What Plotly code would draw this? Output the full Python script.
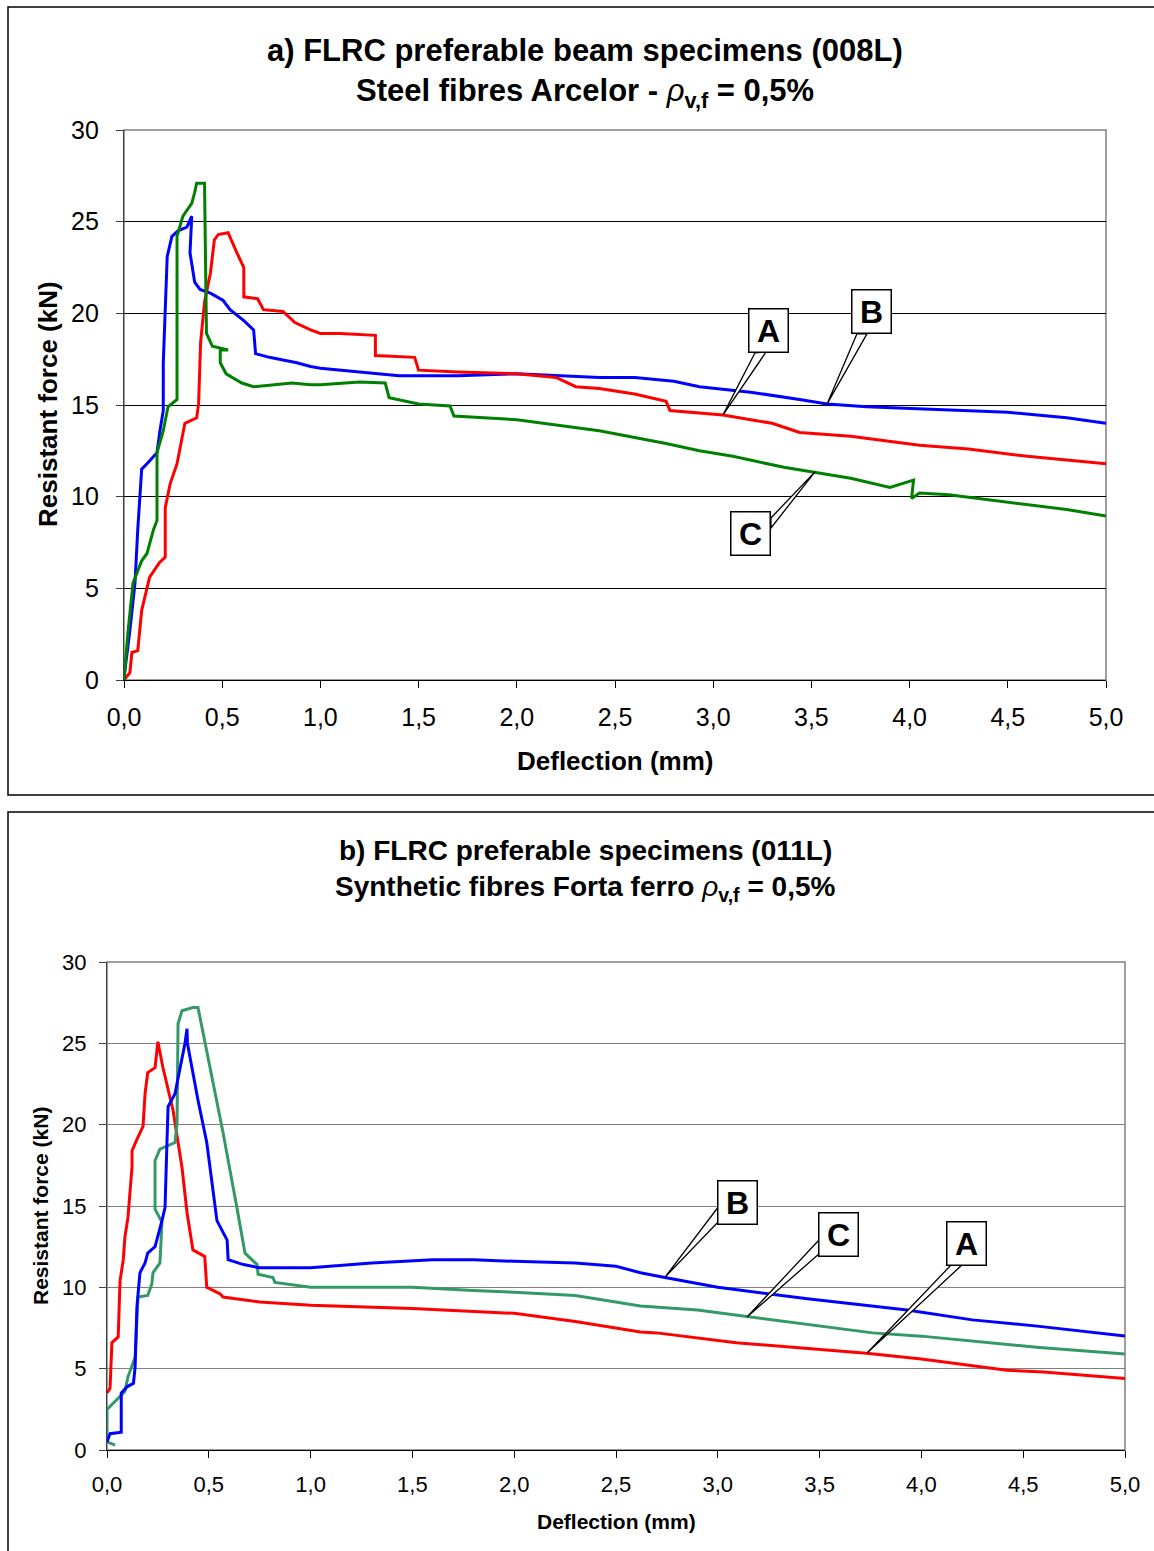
import plotly.graph_objects as go

# ---------------- data: panel a (steel fibres, 008L) ----------------
a_B_x = [0.0, 0.005, 0.03, 0.056, 0.07, 0.09, 0.117, 0.168, 0.183, 0.2, 0.2, 0.21, 0.22, 0.244, 0.275, 0.32, 0.345,
         0.336, 0.36, 0.387, 0.44, 0.505, 0.54, 0.61, 0.66, 0.67, 0.74, 0.88, 0.95, 1.0, 1.2, 1.4, 1.5, 1.7, 2.0, 2.2,
         2.42, 2.6, 2.8, 2.93, 3.19, 3.44, 3.58, 3.78, 4.05, 4.3, 4.5, 4.8, 5.0]
a_B_y = [0.0, 0.55, 2.7, 5.3, 8.2, 11.5, 11.8, 12.4, 13.6, 14.7, 17.3, 20.6, 23.1, 24.2, 24.5, 24.7, 25.3,
         23.3, 21.7, 21.3, 21.1, 20.7, 20.2, 19.6, 19.1, 17.8, 17.6, 17.3, 17.1, 17.0, 16.8, 16.6, 16.6, 16.6, 16.7, 16.6,
         16.5, 16.5, 16.3, 16.0, 15.7, 15.3, 15.06, 14.9, 14.8, 14.7, 14.6, 14.3, 14.0]

a_A_x = [0.0, 0.03, 0.04, 0.07, 0.09, 0.13, 0.18, 0.21, 0.21, 0.235, 0.27, 0.31, 0.37, 0.38, 0.39, 0.41, 0.44, 0.46,
         0.48, 0.53, 0.575, 0.61, 0.61, 0.68, 0.71, 0.81, 0.87, 0.95, 1.0, 1.1, 1.28, 1.28, 1.48, 1.5, 1.7, 2.0, 2.2,
         2.3, 2.42, 2.6, 2.76, 2.78, 3.05, 3.3, 3.44, 3.7, 4.05, 4.3, 4.6, 4.8, 5.0]
a_A_y = [0.0, 0.4, 1.5, 1.6, 3.8, 5.6, 6.4, 6.7, 9.4, 10.7, 11.8, 14.0, 14.3, 15.1, 18.4, 20.6, 22.2, 24.0,
         24.3, 24.4, 23.3, 22.5, 20.9, 20.8, 20.2, 20.1, 19.5, 19.1, 18.9, 18.9, 18.8, 17.7, 17.6, 16.9, 16.8, 16.7, 16.5,
         16.0, 15.9, 15.6, 15.2, 14.7, 14.45, 14.0, 13.5, 13.3, 12.8, 12.6, 12.2, 12.0, 11.8]

a_C_x = [0.0, 0.02, 0.046, 0.09, 0.117, 0.15, 0.168, 0.168, 0.2, 0.224, 0.27, 0.27, 0.3, 0.345, 0.36, 0.37, 0.41,
         0.42, 0.45, 0.53, 0.49, 0.49, 0.52, 0.6, 0.66, 0.78, 0.855, 0.95, 1.0, 1.2, 1.33, 1.35, 1.5, 1.66, 1.68, 2.0,
         2.2, 2.42, 2.76, 2.93, 3.1, 3.36, 3.53, 3.7, 3.9, 4.02, 4.01, 4.05, 4.2, 4.5, 4.8, 5.0]
a_C_y = [0.0, 2.6, 5.3, 6.5, 6.9, 8.2, 8.7, 12.4, 13.6, 14.9, 15.3, 24.2, 25.3, 26.0, 26.6, 27.1, 27.1,
         18.9, 18.2, 18.0, 18.0, 17.3, 16.7, 16.2, 16.0, 16.1, 16.2, 16.1, 16.1, 16.25, 16.2, 15.4, 15.05, 14.95, 14.4, 14.2,
         13.9, 13.6, 12.9, 12.5, 12.2, 11.6, 11.3, 11.0, 10.5, 10.9, 9.9, 10.2, 10.1, 9.7, 9.3, 8.95]

# ---------------- data: panel b (synthetic fibres, 011L) ----------------
b_A_x = [0.0, 0.015, 0.024, 0.055, 0.064, 0.08, 0.088, 0.103, 0.123, 0.123, 0.147, 0.177, 0.187, 0.2, 0.236, 0.25,
         0.275, 0.324, 0.368, 0.393, 0.422, 0.48, 0.49, 0.555, 0.57, 0.75, 1.0, 1.5, 2.0, 2.3, 2.62, 2.7, 3.09, 3.3,
         3.73, 4.0, 4.42, 4.6, 5.0]
b_A_y = [3.5, 3.8, 6.6, 6.95, 10.4, 11.7, 13.1, 14.3, 17.4, 18.4, 19.1, 19.9, 21.9, 23.2, 23.5, 25.1,
         23.5, 20.9, 17.4, 14.6, 12.3, 11.9, 10.0, 9.6, 9.4, 9.1, 8.9, 8.7, 8.4, 7.9, 7.25, 7.2, 6.6, 6.4,
         5.95, 5.6, 4.9, 4.8, 4.4]

b_B_x = [0.0, 0.015, 0.07, 0.07, 0.1, 0.13, 0.138, 0.147, 0.162, 0.187, 0.2, 0.236, 0.27, 0.285, 0.295, 0.3, 0.334,
         0.36, 0.383, 0.393, 0.395, 0.447, 0.49, 0.54, 0.59, 0.595, 0.67, 0.75, 1.0, 1.3, 1.6, 1.8, 2.0, 2.3, 2.5,
         2.62, 2.74, 3.0, 3.44, 3.93, 4.25, 4.58, 5.0]
b_B_y = [0.5, 1.0, 1.1, 3.5, 3.9, 4.1, 5.1, 8.8, 10.9, 11.5, 12.1, 12.5, 14.1, 14.9, 19.1, 21.1, 21.9,
         23.5, 25.0, 25.9, 25.0, 21.5, 18.9, 14.1, 12.9, 11.7, 11.4, 11.2, 11.2, 11.5, 11.7, 11.7, 11.6, 11.5, 11.3,
         10.9, 10.6, 10.0, 9.3, 8.6, 8.0, 7.6, 7.0]

b_C_x = [0.04, 0.0, 0.0, 0.064, 0.088, 0.103, 0.138, 0.152, 0.2, 0.22, 0.226, 0.26, 0.27, 0.236, 0.236, 0.26, 0.3,
         0.334, 0.344, 0.349, 0.368, 0.422, 0.447, 0.506, 0.57, 0.638, 0.678, 0.737, 0.742, 0.815, 0.825, 1.0, 1.5,
         1.8, 2.0, 2.3, 2.62, 2.9, 3.14, 3.4, 3.76, 4.0, 4.34, 4.58, 5.0]
b_C_y = [0.3, 0.5, 2.5, 3.3, 3.6, 4.5, 5.7, 9.4, 9.5, 10.2, 10.9, 11.5, 14.0, 14.8, 17.8, 18.5, 18.7,
         18.9, 20.1, 26.2, 27.0, 27.2, 27.2, 23.5, 19.5, 14.9, 12.1, 11.4, 10.8, 10.6, 10.3, 10.0, 10.0,
         9.8, 9.7, 9.5, 8.85, 8.6, 8.2, 7.8, 7.2, 7.0, 6.6, 6.3, 5.9]

x_tickvals = [0.0, 0.5, 1.0, 1.5, 2.0, 2.5, 3.0, 3.5, 4.0, 4.5, 5.0]
x_ticktext = ["0,0", "0,5", "1,0", "1,5", "2,0", "2,5", "3,0", "3,5", "4,0", "4,5", "5,0"]
y_tickvals = [0, 5, 10, 15, 20, 25, 30]
y_ticktext = ["0", "5", "10", "15", "20", "25", "30"]

# ---------------- layout settings ----------------
W, H = 1154, 1551
FONT = "Liberation Sans, Arial, sans-serif"


def px_x(p):
    return p / W


def px_y(p):
    return 1 - p / H


# callout boxes: (label, box centre x, y, wedge base points, tip) in data units
callouts_a = [
    ("A", 3.284, 19.09, [(3.213, 17.85), (3.269, 17.89)], (3.05, 14.46)),
    ("B", 3.806, 20.10, [(3.732, 18.88), (3.783, 18.88)], (3.58, 15.06)),
    ("C", 3.192, 7.99, [(3.294, 8.84), (3.294, 8.29)], (3.518, 11.35)),
]
callouts_b = [
    ("B", 3.097, 15.21, [(3.006, 15.0), (3.011, 14.14)], (2.741, 10.63)),
    ("C", 3.595, 13.25, [(3.497, 12.91), (3.502, 12.11)], (3.143, 8.17)),
    ("A", 4.222, 12.69, [(4.150, 11.43), (4.204, 11.43)], (3.733, 5.96)),
]

fig = go.Figure()

col_a = {"A": "#FF0000", "B": "#0000FF", "C": "#008000"}
col_b = {"A": "#FF0000", "B": "#0000FF", "C": "#339966"}

for name, xs, ys in [("B", a_B_x, a_B_y), ("A", a_A_x, a_A_y), ("C", a_C_x, a_C_y)]:
    fig.add_trace(go.Scatter(x=xs, y=ys, mode="lines", name=name, xaxis="x", yaxis="y",
                             line=dict(color=col_a[name], width=3), showlegend=False))
for name, xs, ys in [("A", b_A_x, b_A_y), ("C", b_C_x, b_C_y), ("B", b_B_x, b_B_y)]:
    fig.add_trace(go.Scatter(x=xs, y=ys, mode="lines", name=name, xaxis="x2", yaxis="y2",
                             line=dict(color=col_b[name], width=3), showlegend=False))


def xaxis_cfg(domain, size, standoff, anchor):
    return dict(domain=domain, range=[0, 5], anchor=anchor, tickvals=x_tickvals, ticktext=x_ticktext,
                showgrid=False, zeroline=False, showline=True, linecolor="#000000", linewidth=1.3,
                ticks="outside", ticklen=7, tickcolor="#000000", tickwidth=1.3, automargin=False,
                tickfont=dict(family=FONT, size=size, color="#000"), ticklabelstandoff=standoff)


def yaxis_cfg(domain, size, standoff, anchor, gridcolor):
    return dict(domain=domain, range=[0, 30], anchor=anchor, tickvals=y_tickvals, ticktext=y_ticktext,
                showgrid=True, gridcolor=gridcolor, gridwidth=1, zeroline=False, automargin=False,
                showline=True, linecolor="#404040", linewidth=1.3,
                ticks="outside", ticklen=7, tickcolor="#404040", tickwidth=1.3,
                tickfont=dict(family=FONT, size=size, color="#000"), ticklabelstandoff=standoff)


xa_dom = [px_x(124), px_x(1106)]
ya_dom = [px_y(680), px_y(130)]
xb_dom = [px_x(107), px_x(1125)]
yb_dom = [px_y(1450), px_y(962)]

fig.update_layout(
    width=W, height=H, margin=dict(l=0, r=0, t=0, b=0, pad=0, autoexpand=False),
    paper_bgcolor="white", plot_bgcolor="white",
    xaxis=xaxis_cfg(xa_dom, 25, 8, "y"),
    yaxis=yaxis_cfg(ya_dom, 25, 12, "x", "#000000"),
    xaxis2=xaxis_cfg(xb_dom, 22, 7, "y2"),
    yaxis2=yaxis_cfg(yb_dom, 22, 8, "x2", "#808080"),
)

shapes = []
# outer panel frames (open on the right / bottom, as in the reference)
L, R = px_x(8), 1.0
shapes.append(dict(type="path", xref="paper", yref="paper",
                   path=f"M {R} {px_y(7)} L {L} {px_y(7)} L {L} {px_y(795)} L {R} {px_y(795)}",
                   line=dict(color="#000000", width=1.5), layer="below"))
shapes.append(dict(type="path", xref="paper", yref="paper",
                   path=f"M {R} {px_y(812)} L {L} {px_y(812)} L {L} 0",
                   line=dict(color="#000000", width=1.5), layer="below"))
# grey plot-area border (top/right)
for xr, yr in [("x", "y"), ("x2", "y2")]:
    shapes.append(dict(type="rect", xref=xr + " domain", yref=yr + " domain", x0=0, x1=1, y0=0, y1=1,
                       line=dict(color="#808080", width=1.5), layer="below"))

annotations = []


def add_callouts(callouts, xr, yr):
    for label, cx, cy, base, tip in callouts:
        (bx1, by1), (bx2, by2) = base
        tx, ty = tip
        shapes.append(dict(type="path", xref=xr, yref=yr,
                           path=f"M {bx1} {by1} L {tx} {ty} L {bx2} {by2} Z",
                           fillcolor="white", line=dict(color="black", width=1.3), layer="above"))
        annotations.append(dict(x=cx, y=cy, xref=xr, yref=yr, text=f"<b>{label}</b>", showarrow=False,
                                font=dict(family=FONT, size=32, color="black"),
                                bgcolor="white", bordercolor="black", borderwidth=1.5, borderpad=4,
                                width=30, height=34, align="center", valign="middle"))


add_callouts(callouts_a, "x", "y")
add_callouts(callouts_b, "x2", "y2")

# titles
title_lines = [
    ("<b>a) FLRC preferable beam specimens (008L)</b>", 585, 50, 31),
    ("<b>Steel fibres Arcelor - </b><i>ρ</i><b><sub>v,f</sub> = 0,5%</b>", 585, 93, 31),
    ("<b>b) FLRC preferable specimens (011L)</b>", 585, 850, 28),
    ("<b>Synthetic fibres Forta ferro </b><i>ρ</i><b><sub>v,f</sub> = 0,5%</b>", 585, 888, 28),
]
for txt, cx, cy, sz in title_lines:
    annotations.append(dict(x=px_x(cx), y=px_y(cy), xref="paper", yref="paper", text=txt, showarrow=False,
                            xanchor="center", yanchor="middle", font=dict(family=FONT, size=sz, color="black")))

# axis titles
axis_titles = [
    ("<b>Resistant force (kN)</b>", 48, 404, 26, -90),
    ("<b>Deflection (mm)</b>", 615, 761, 26, 0),
    ("<b>Resistant force (kN)</b>", 40, 1206, 21, -90),
    ("<b>Deflection (mm)</b>", 616, 1521, 21, 0),
]
for txt, cx, cy, sz, ang in axis_titles:
    annotations.append(dict(x=px_x(cx), y=px_y(cy), xref="paper", yref="paper", text=txt, showarrow=False,
                            textangle=ang, xanchor="center", yanchor="middle",
                            font=dict(family=FONT, size=sz, color="black")))

fig.update_layout(shapes=shapes, annotations=annotations)
fig.write_html("out.html", config={"displayModeBar": False},
               post_script="document.body.style.margin='0';document.body.style.padding='0';"
                           "document.body.style.overflow='hidden';")
